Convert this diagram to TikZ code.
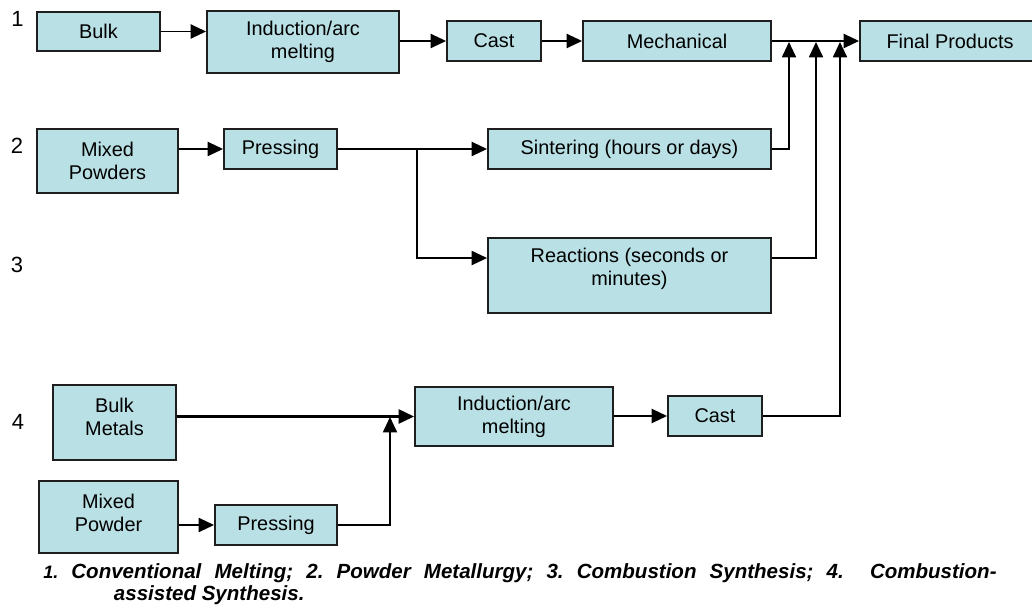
\documentclass[tikz,border=0pt]{standalone}
\usepackage{fontspec}
\setmainfont{Liberation Sans}
\usetikzlibrary{arrows.meta,calc}
\definecolor{boxfill}{RGB}{185,224,228}
\definecolor{boxline}{RGB}{30,30,30}
\begin{document}
\frenchspacing
\begin{tikzpicture}[x=0.75pt,y=-0.75pt,
  box/.style={draw=boxline,fill=boxfill,line width=1.4pt,inner sep=0pt,align=center,
              font=\fontsize{14.9}{17.25}\selectfont},
  wh/.style 2 args={minimum width={#1*0.75pt},minimum height={#2*0.75pt}},
  txt/.style={inner sep=0pt,align=center,font=\fontsize{14.9}{17.25}\selectfont},
  conn/.style={line width=1.4pt,-{Triangle[length=11.5pt,width=10.5pt]}},
  lbl/.style={inner sep=0pt,font=\fontsize{16.5}{19}\selectfont},
  captxt/.style={inner sep=0pt,align=left,font=\fontsize{15.4}{16.5}\selectfont\bfseries\itshape}]
\useasboundingbox (0,0) rectangle (1032,609);
\clip (0,0) rectangle (1032,609);

% row labels
\node[lbl] (l1) at (17.5,19) {1};
\node[lbl] (l2) at (17,146) {2};
\node[lbl] (l3) at (17,265) {3};
\node[lbl] (l4) at (18,422) {4};

% row 1
\node[box,wh={123}{39}] (bulk) at (98.5,31.5) {Bulk};
\node[box,wh={192}{62}] (ind1) at (303,42) {Induction/arc\\melting};
\node[box,wh={94}{40}] (cast1) at (494,41) {Cast};
\node[box,wh={188}{40}] (mech) at (677,41) {Mechanical};
\node[box,wh={180}{40}] (final) at (950,41) {Final Products};

% row 2 / 3
\node[box,wh={141}{64}] (mps) at (107.5,161) {Mixed\\Powders};
\node[box,wh={113}{40}] (pr2) at (280.5,149) {Pressing};
\node[box,wh={283}{40}] (sint) at (629.5,149) {Sintering (hours or days)};
\node[box,wh={283}{75}] (reac) at (629.5,275.5) {};
\node[txt] (reacT) at (629.5,268.5) {Reactions (seconds or\\minutes)};

% row 4
\node[box,wh={123}{75}] (bm) at (114.5,422.5) {};
\node[txt] (bmT) at (114.5,416.5) {Bulk\\Metals};
\node[box,wh={198}{59}] (ind4) at (514,416.5) {Induction/arc\\melting};
\node[box,wh={94}{40}] (cast4) at (715,416) {Cast};
\node[box,wh={139}{72}] (mp) at (108.5,517) {};
\node[txt] (mpT) at (108.5,512.5) {Mixed\\Powder};
\node[box,wh={122}{40}] (pr4) at (276,525) {Pressing};

% junctions
\coordinate (j1) at (789,42);
\coordinate (j2) at (816,42);
\coordinate (j3) at (840,42);
\coordinate (b) at (417,149);
\coordinate (j4) at (390,417);

% connectors
\draw[conn] (bulk.east) -- (bulk.east -| ind1.west);
\draw[conn] (ind1.east |- cast1.west) -- (cast1.west);
\draw[conn] (cast1.east) -- (mech.west);
\draw[conn] (mech.east) -- (final.west);
\draw[conn] (sint.east) -| (j1);
\draw[conn] ([yshift=13.1pt]reac.east) -| (j2);
\draw[conn] (cast4.east) -| (j3);
\draw[conn] (mps.east |- pr2.west) -- (pr2.west);
\draw[conn] (pr2.east) -- (sint.west);
\draw[conn] (b) |- ([yshift=13.1pt]reac.west);
\draw[conn,line width=1.7pt] (bm.east |- ind4.west) -- (ind4.west);
\draw[conn] (mp.east |- pr4.west) -- (pr4.west);
\draw[conn] (pr4.east) -| (j4);
\draw[conn] (ind4.east |- cast4.west) -- (cast4.west);

% caption
\node[captxt,anchor=base west] (capnode) at (43,600)
  {\hbox to 715pt{{\fontsize{13.5}{16.5}\selectfont 1.} Conventional Melting; 2. Powder Metallurgy; 3. Combustion Synthesis; 4.\ \ Combustion-}\\
   \hspace*{53pt}assisted Synthesis.};
\end{tikzpicture}
\end{document}
